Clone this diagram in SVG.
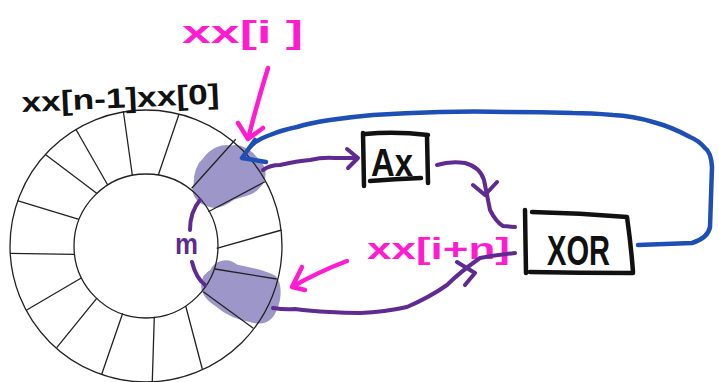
<svg xmlns="http://www.w3.org/2000/svg" width="719" height="382" viewBox="0 0 719 382">
  <style>
    .ring { fill: none; stroke: #222; stroke-width: 1.3; }
    .blob { fill: #9d96c8; stroke: #9d96c8; stroke-width: 5; stroke-linejoin: round; }
    .ink { fill: none; stroke-linecap: round; stroke-linejoin: round; }
    .purple { stroke: #5f2a91; stroke-width: 4; }
    .pink { stroke: #ff1cd0; stroke-width: 4.5; }
    .blue { stroke: #1d4fb6; stroke-width: 4.5; }
    .box { fill: none; stroke: #111; stroke-width: 4.5; stroke-linecap: round; stroke-linejoin: round; }
    .hand { font-family: "Liberation Sans", "DejaVu Sans", sans-serif; font-weight: bold; }
  </style>

  <!-- circular buffer -->
  <g id="ring">
    <path class="blob" d="M205,160 C212,150 222,146 232,148 C240,146 250,152 256,160 C264,166 266,178 258,186 C252,194 240,194 232,198 C224,204 214,208 206,203 C198,200 193,193 196,185 C196,176 198,166 205,160 Z"/>
    <path class="blob" d="M212,272 C216,262 228,260 236,267 C250,270 264,272 274,278 C280,285 279,300 274,310 C270,320 262,323 252,320 C240,318 228,314 218,305 C210,300 202,292 204,284 C204,278 208,274 212,272 Z"/>
    <circle class="ring" cx="146" cy="246" r="136"/>
    <circle class="ring" cx="146" cy="246" r="72"/>
    <path class="ring" d="M123.3,111 L132.3,175 M75.7,129 L107.7,185 M45,154.3 L96.7,193.3 M17.3,200.7 L79,219.3
      M10,253.3 L75,254.3 M26.7,310 L81.7,277.7 M56.7,347.7 L96.7,298.3 M101.7,374.3 L122.7,313.3
      M152.3,381 L154.3,316.7 M202.3,369 L185.7,306 M253.3,328.3 L203.3,291.7 M276.7,279 L215,269
      M281.7,230 L216.7,248.3 M265,181.7 L208.3,211.7 M235.7,139.3 L191.7,188.3 M179,114.3 L158.3,175"/>
  </g>

  <!-- labels -->
  <g id="label-ring">
    <text class="hand" x="22" y="112" font-size="28" fill="#111" textLength="198" lengthAdjust="spacingAndGlyphs" transform="rotate(-2.5 22 112)">xx[n-1]xx[0]</text>
  </g>
  <g id="label-i">
    <text class="hand" x="182" y="43" font-size="32" fill="#ff1cd0" textLength="121" lengthAdjust="spacingAndGlyphs">xx[i ]</text>
  </g>
  <g id="label-in">
    <text class="hand" x="367" y="259" font-size="29" fill="#ff1cd0" textLength="143" lengthAdjust="spacingAndGlyphs">xx[i+n]</text>
  </g>
  <g id="label-m">
    <text class="hand" x="175" y="254" font-size="30" fill="#5f2a91" textLength="23" lengthAdjust="spacingAndGlyphs">m</text>
  </g>

  <!-- operator boxes -->
  <g id="ax">
    <path class="box" d="M363,133 L364,186 M365,134 Q395,131 428,135 M427,136 L428,183 M370,181 Q395,179 421,178"/>
    <text class="hand" x="371" y="176" font-size="38" fill="#111" textLength="42" lengthAdjust="spacingAndGlyphs">Ax</text>
  </g>
  <g id="xor">
    <path class="box" d="M525,210 L526,273 M532,212 Q580,213 627,217 Q631,245 633,272 M530,272 Q580,273 633,273"/>
    <text class="hand" x="547" y="265" font-size="42" fill="#111" textLength="63" lengthAdjust="spacingAndGlyphs">XOR</text>
  </g>

  <!-- connectors -->
  <g id="connectors">
    <!-- pointer to xx[i] -->
    <path class="ink pink" d="M268,68 Q258,100 248,139 M238,123 L248,139 L263,128"/>
    <!-- pointer to xx[i+n] -->
    <path class="ink pink" d="M347,261 Q318,272 292,287 M302,267 L292,287 L305,290"/>
    <!-- gap arcs around m -->
    <path class="ink purple" d="M200,200 Q190,212 190,230 M192,262 Q196,278 205,285"/>
    <!-- xx[i] to Ax -->
    <path class="ink purple" d="M263,170 Q270,165 280,165 Q297,161 310,160 Q323,157 335,158 L358,158 M347,149 L358,158 L348,168"/>
    <!-- Ax to XOR -->
    <path class="ink purple" d="M437,165 Q450,161 465,163 Q480,167 484,180 Q487,195 490,210 Q496,222 503,226 L515,227 M473,185 L485,195 L497,182"/>
    <!-- xx[i+n] to XOR -->
    <path class="ink purple" d="M273,308 Q285,310 295,309 Q310,311 330,312 Q345,313 360,313 Q385,312 407,307 Q430,297 447,285 Q460,272 480,258 Q497,255 515,253 M457,262 L475,273 L465,285"/>
    <!-- XOR result back into xx[i] -->
    <path class="ink blue" d="M638,245 Q665,244 692,243 Q708,238 710,227 L712,167 Q711,152 705,148 Q698,140 690,137 Q672,127 653,122 Q633,116 613,115 Q590,113 573,113 Q540,112 507,112 Q475,111 440,112 Q405,113 373,115 Q350,117 330,120 Q310,123 297,127 Q282,130 270,135 Q256,140 250,147 L242,158 M255,140 L242,158 L266,162"/>
  </g>
</svg>
